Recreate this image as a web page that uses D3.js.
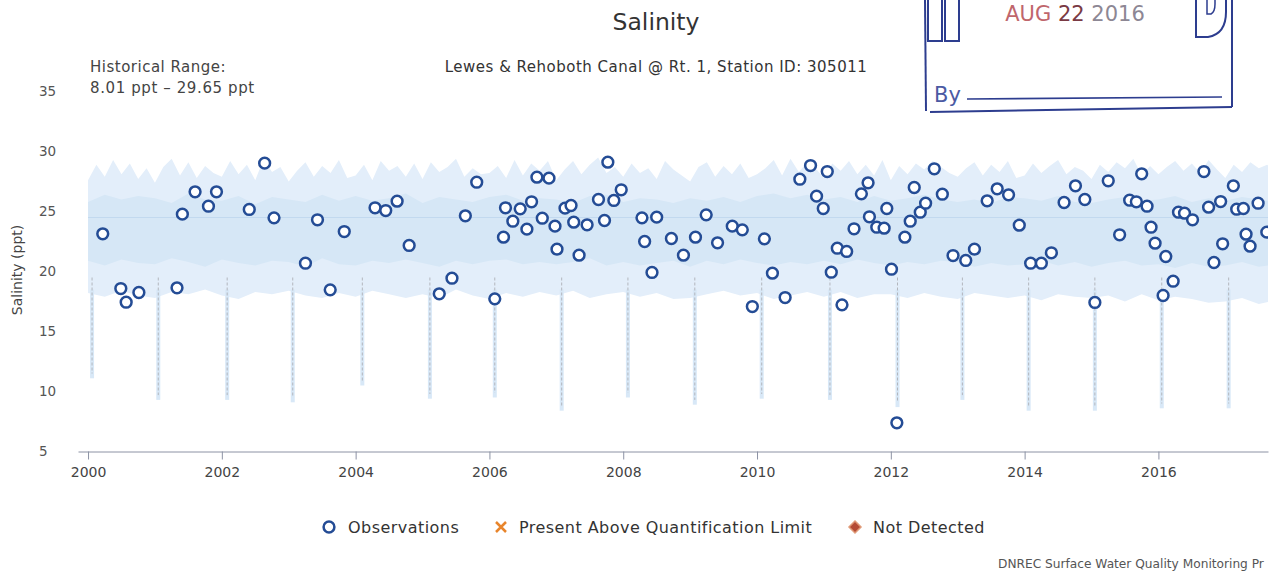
<!DOCTYPE html>
<html lang="en">
<head>
<meta charset="UTF-8" />
<title>Salinity</title>
<script src="https://d3js.org/d3.v7.min.js"></script>
<style>
  body { margin: 0; background: #fff; }
  svg { display: block; font-family: "DejaVu Sans", Verdana, sans-serif; }
</style>
</head>
<body>
<svg width="1280" height="573"></svg>
<script>
// observations (decimal year, ppt)
const obsDates = [2000.22, 2000.49, 2000.57, 2000.76, 2001.33, 2001.41, 2001.60, 2001.80, 2001.92, 2002.41, 2002.64, 2002.78,
  2003.25, 2003.43, 2003.62, 2003.83, 2004.29, 2004.45, 2004.62, 2004.80, 2005.25, 2005.44, 2005.64, 2005.81,
  2006.08, 2006.21, 2006.24, 2006.35, 2006.46, 2006.56, 2006.63, 2006.71, 2006.79, 2006.89, 2006.98, 2007.01,
  2007.13, 2007.22, 2007.26, 2007.34, 2007.46, 2007.63, 2007.72, 2007.77, 2007.86, 2007.97, 2008.28, 2008.32,
  2008.43, 2008.50, 2008.72, 2008.90, 2009.08, 2009.24, 2009.41, 2009.63, 2009.78, 2009.93, 2010.11, 2010.23,
  2010.42, 2010.64, 2010.80, 2010.89, 2010.99, 2011.05, 2011.11, 2011.20, 2011.27, 2011.34, 2011.45, 2011.56,
  2011.66, 2011.68, 2011.79, 2011.90, 2011.94, 2012.01, 2012.09, 2012.21, 2012.29, 2012.35, 2012.44, 2012.52,
  2012.65, 2012.77, 2012.93, 2013.12, 2013.25, 2013.44, 2013.59, 2013.76, 2013.92, 2014.09, 2014.25, 2014.40,
  2014.59, 2014.76, 2014.90, 2015.05, 2015.25, 2015.42, 2015.57, 2015.67, 2015.75, 2015.83, 2015.89, 2015.95,
  2016.07, 2016.11, 2016.22, 2016.30, 2016.39, 2016.51, 2016.68, 2016.75, 2016.83, 2016.93, 2016.96, 2017.12,
  2017.17, 2017.27, 2017.31, 2017.37, 2017.49, 2017.62];
const obsValues = [23.14, 18.58, 17.44, 18.25, 18.64, 24.78, 26.64, 25.44, 26.64, 25.17, 29.03, 24.47,
  20.69, 24.31, 18.47, 23.33, 25.31, 25.08, 25.86, 22.17, 18.14, 19.44, 24.64, 27.44,
  17.72, 22.86, 25.31, 24.19, 25.22, 23.53, 25.81, 27.86, 24.44, 27.78, 23.78, 21.86,
  25.28, 25.50, 24.11, 21.36, 23.89, 26.00, 24.25, 29.11, 25.92, 26.81, 24.47, 22.50,
  19.92, 24.53, 22.75, 21.36, 22.86, 24.72, 22.39, 23.78, 23.47, 17.08, 22.72, 19.86,
  17.83, 27.69, 28.83, 26.28, 25.25, 28.33, 19.94, 21.94, 17.22, 21.67, 23.56, 26.47,
  27.39, 24.56, 23.69, 23.61, 25.25, 20.19, 7.39, 22.86, 24.19, 27.00, 24.94, 25.69,
  28.56, 26.44, 21.33, 20.92, 21.86, 25.89, 26.89, 26.39, 23.86, 20.69, 20.69, 21.56,
  25.75, 27.14, 26.00, 17.42, 27.56, 23.06, 25.94, 25.81, 28.14, 25.44, 23.69, 22.36,
  18.00, 21.25, 19.19, 24.94, 24.86, 24.31, 28.33, 25.36, 20.75, 25.83, 22.31, 27.14,
  25.19, 25.25, 23.11, 22.11, 25.69, 23.28];

// historical continuous record, read per year
const bandYears = [2000, 2001, 2002, 2003, 2004, 2005, 2006, 2007, 2008, 2009, 2010, 2011, 2012, 2013, 2014, 2015, 2016, 2017];
const bandHigh = [
  [27.6, 28.9, 27.9, 29.3, 28.1, 29.0, 27.7, 28.6], [27.4, 28.7, 29.4, 28.0, 29.1, 27.8, 28.8, 28.2],
  [27.9, 29.2, 28.1, 28.9, 27.6, 29.4, 28.3, 28.7], [27.5, 28.4, 29.1, 27.9, 28.8, 28.2, 29.3, 27.8],
  [28.0, 28.9, 27.6, 29.2, 28.4, 28.8, 27.9, 29.0], [27.7, 29.1, 28.3, 28.7, 29.4, 27.9, 28.6, 28.1],
  [28.2, 28.8, 27.8, 29.3, 28.0, 29.0, 28.4, 29.2], [27.6, 28.5, 29.2, 28.1, 28.9, 29.5, 28.2, 28.7],
  [27.9, 29.0, 28.2, 28.6, 27.7, 29.2, 28.5, 28.0], [27.5, 28.7, 29.1, 27.9, 28.8, 28.1, 29.0, 27.8],
  [28.1, 28.6, 29.3, 28.0, 29.4, 28.3, 29.1, 28.6], [27.8, 29.0, 28.4, 29.2, 28.1, 28.9, 28.0, 29.3],
  [27.6, 28.8, 28.1, 29.0, 28.5, 29.2, 28.7, 28.2], [27.9, 28.6, 29.1, 28.0, 28.9, 28.3, 29.2, 27.8],
  [28.0, 29.0, 28.2, 28.8, 29.3, 28.1, 28.7, 28.4], [27.7, 28.9, 28.3, 29.1, 28.6, 29.4, 28.0, 28.8],
  [28.1, 28.7, 29.2, 28.4, 29.0, 28.2, 29.3, 28.5], [27.8, 28.9, 28.3, 29.1, 28.6, 28.9, 28.2, 28.7]];
const bandLow = [
  [18.2, 17.9, 18.4, 18.0], [17.8, 18.3, 18.1, 18.5], [18.0, 17.7, 18.3, 18.1], [18.4, 18.0, 17.8, 18.2],
  [17.9, 18.4, 18.1, 17.8], [18.1, 17.8, 18.5, 18.0], [17.7, 18.2, 17.9, 18.3], [18.0, 18.4, 17.8, 18.1],
  [18.3, 17.9, 18.2, 17.7], [17.8, 18.1, 18.4, 18.0], [18.2, 17.7, 18.0, 18.3], [17.9, 18.3, 17.8, 18.1],
  [18.1, 17.8, 18.2, 17.9], [17.7, 18.2, 18.0, 17.8], [18.0, 17.6, 18.1, 17.9], [17.8, 18.0, 17.5, 18.1],
  [17.6, 17.9, 17.7, 17.4], [17.5, 17.8, 17.3, 17.6]];
const coreHigh = [
  [25.8, 26.4, 26.0, 26.3], [26.1, 25.7, 26.5, 26.0], [25.9, 26.3, 25.6, 26.2], [26.0, 25.8, 26.4, 25.9],
  [26.3, 25.9, 26.1, 26.5], [25.7, 26.2, 26.0, 25.8], [26.2, 26.4, 25.9, 26.1], [26.0, 25.7, 26.3, 26.4],
  [25.8, 26.1, 26.0, 25.7], [26.1, 25.9, 26.2, 25.8], [26.3, 26.5, 26.1, 26.4], [26.0, 26.2, 25.8, 26.3],
  [25.9, 26.1, 26.4, 26.0], [25.8, 26.0, 25.7, 26.2], [26.1, 25.9, 26.3, 25.8], [25.7, 26.0, 26.2, 25.9],
  [26.0, 26.3, 25.8, 26.1], [25.9, 26.2, 26.0, 25.8]];
const coreLow = [
  [20.9, 20.5, 21.0, 20.7], [20.6, 21.1, 20.8, 20.4], [21.0, 20.7, 20.5, 20.9], [20.8, 20.4, 21.1, 20.6],
  [20.5, 20.9, 20.7, 21.0], [20.7, 20.4, 20.9, 20.6], [20.9, 21.0, 20.6, 20.8], [20.6, 20.8, 21.1, 20.5],
  [20.8, 20.5, 20.7, 20.9], [20.4, 20.9, 20.6, 21.0], [20.7, 20.5, 20.8, 20.6], [20.9, 20.6, 21.0, 20.7],
  [20.5, 20.8, 20.6, 20.9], [20.8, 20.4, 20.7, 20.5], [20.6, 20.9, 20.5, 20.8], [20.4, 20.7, 20.9, 20.5],
  [20.6, 20.3, 20.7, 20.4], [20.5, 20.8, 20.4, 20.6]];
const typicalLevel = 24.5;

// yearly winter dips
const dipDates = [2000.06, 2001.05, 2002.08, 2003.06, 2004.10, 2005.11, 2006.08, 2007.08, 2008.07,
  2009.07, 2010.07, 2011.09, 2012.10, 2013.07, 2014.06, 2015.05, 2016.05, 2017.05];
const dipValues = [11.1, 9.3, 9.3, 9.1, 10.5, 9.4, 9.5, 8.4, 9.5, 8.9, 9.4, 9.3, 8.7, 9.3, 8.4, 8.4, 8.6, 8.6];

const xTicks = [2000, 2002, 2004, 2006, 2008, 2010, 2012, 2014, 2016];
const yTicks = [5, 10, 15, 20, 25, 30, 35];
const legendLabels = ["Observations", "Present Above Quantification Limit", "Not Detected"];

let svg = d3.select("svg");

let x = d3.scaleLinear().domain([1999.85, 2017.638]).range([78, 1268]);
let y = d3.scaleLinear().domain([5, 35]).range([451.5, 91.5]);

svg.append("defs").append("clipPath").attr("id", "plot")
  .append("rect").attr("x", 78).attr("y", 80).attr("width", 1190).attr("height", 372);

let plot = svg.append("g").attr("clip-path", "url(#plot)");

// band polygons
function bandPoints(high, low) {
  let top = [], bottom = [];
  bandYears.forEach((yr, i) => {
    high[i].forEach((v, k) => top.push([yr + k / high[i].length, v]));
    low[i].forEach((v, k) => bottom.push([yr + k / low[i].length, v]));
  });
  return top.concat(bottom.reverse());
}
let line = d3.line().x((d) => x(d[0])).y((d) => y(d[1]));

plot.append("path").attr("d", line(bandPoints(bandHigh, bandLow)) + "Z")
  .attr("fill", "#e3eefa");
plot.append("path").attr("d", line(bandPoints(coreHigh, coreLow)) + "Z")
  .attr("fill", "#d6e7f6");

plot.append("line")
  .attr("x1", x(2000)).attr("x2", x(2017.9))
  .attr("y1", y(typicalLevel)).attr("y2", y(typicalLevel))
  .attr("stroke", "#c2d9ef").attr("stroke-width", 1.2);

// winter dips
plot.append("g").selectAll("line").data(dipDates).join("line")
  .attr("x1", (d) => x(d)).attr("x2", (d) => x(d))
  .attr("y1", y(18.5)).attr("y2", (d, i) => y(dipValues[i]))
  .attr("stroke", "#d8e8f7").attr("stroke-width", 4);
plot.append("g").selectAll("line").data(dipDates).join("line")
  .attr("x1", (d) => x(d)).attr("x2", (d) => x(d))
  .attr("y1", y(19.5)).attr("y2", (d, i) => y(dipValues[i] + 0.4))
  .attr("stroke", "#b3b6bd").attr("stroke-width", 1).attr("stroke-dasharray", "3,2");

// observations
plot.append("g").selectAll("circle").data(obsDates).join("circle")
  .attr("cx", (d) => x(d)).attr("cy", (d, i) => y(obsValues[i]))
  .attr("r", 5.4)
  .attr("fill", "#fff")
  .attr("stroke", "#244c95")
  .attr("stroke-width", 2.5);

// axes
let xAxis = svg.append("g").attr("transform", `translate(0,${y(5)})`)
  .call(d3.axisBottom(x).tickValues(xTicks).tickFormat(d3.format("d")).tickSize(8).tickSizeOuter(0).tickPadding(8));
xAxis.select(".domain").attr("stroke", "#8c92a4");
xAxis.selectAll(".tick line").attr("stroke", "#8c92a4");
xAxis.selectAll("text").attr("fill", "#444").attr("font-size", 14).attr("font-family", "DejaVu Sans");

let yAxis = svg.append("g").attr("transform", "translate(39,0)")
  .call(d3.axisLeft(y).tickValues(yTicks).tickSize(0).tickPadding(0));
yAxis.select(".domain").remove();
yAxis.selectAll("text").attr("text-anchor", "start").attr("x", 0)
  .attr("fill", "#555").attr("font-size", 13.5).attr("font-family", "DejaVu Sans");

svg.append("text")
  .attr("transform", "translate(22,270) rotate(-90)")
  .attr("text-anchor", "middle")
  .attr("font-size", 14).attr("fill", "#444")
  .text("Salinity (ppt)");

// titles
svg.append("text").attr("x", 656).attr("y", 30).attr("text-anchor", "middle")
  .attr("font-size", 23.5).attr("fill", "#333").text("Salinity");
svg.append("text").attr("x", 656).attr("y", 72).attr("text-anchor", "middle")
  .attr("font-size", 15).attr("letter-spacing", 0.5).attr("fill", "#333")
  .text("Lewes & Rehoboth Canal @ Rt. 1, Station ID: 305011");
svg.append("text").attr("x", 90).attr("y", 72)
  .attr("font-size", 15).attr("letter-spacing", 0.5).attr("fill", "#444").text("Historical Range:");
svg.append("text").attr("x", 90).attr("y", 93)
  .attr("font-size", 15).attr("letter-spacing", 0.6).attr("fill", "#444").text("8.01 ppt \u2013 29.65 ppt");

// legend
let lg = svg.append("g").attr("transform", "translate(0,527)");
lg.append("circle").attr("cx", 329).attr("cy", 0).attr("r", 5.4)
  .attr("fill", "#fff").attr("stroke", "#244c95").attr("stroke-width", 2.5);
lg.append("path").attr("d", "M496,-5L506,5M506,-5L496,5")
  .attr("stroke", "#e8852c").attr("stroke-width", 2.5);
lg.append("path").attr("d", "M855,-6L861,0L855,6L849,0Z")
  .attr("fill", "#b44b35").attr("stroke", "#e09a78").attr("stroke-width", 1.5);
lg.selectAll("text.lab").data(legendLabels).join("text").attr("class", "lab")
  .attr("x", (d, i) => [348, 519, 873][i]).attr("y", 6)
  .attr("font-size", 16).attr("letter-spacing", 0.45).attr("fill", "#333")
  .text((d) => d);

svg.append("text").attr("x", 998).attr("y", 568)
  .attr("font-size", 12.2).attr("fill", "#555")
  .text("DNREC Surface Water Quality Monitoring Pr");

// received stamp
let st = svg.append("g").attr("fill", "none").attr("stroke", "#2d3d8f").attr("stroke-width", 2);
st.append("path").attr("d", "M925,0L926,111");
st.append("path").attr("d", "M1232,0L1232,107");
st.append("path").attr("d", "M930,112L1232,107");
st.append("path").attr("d", "M967,99L1222,97").attr("stroke-width", 1.6);
st.append("path").attr("d", "M928,0L928,41L942,41L942,0");
st.append("path").attr("d", "M945,0L945,41L959,41L959,0");
st.append("path").attr("d", "M1196,0L1196,37L1208,37Q1226,34 1226,12L1226,0");
st.append("path").attr("d", "M1207,0L1207,14L1211,14Q1215,12 1215,4L1215,0").attr("stroke-width", 1.5);
let dt = svg.append("text").attr("x", 1075).attr("y", 21).attr("text-anchor", "middle").attr("font-size", 21);
dt.append("tspan").attr("fill", "#c0666c").text("AUG ");
dt.append("tspan").attr("fill", "#7a3a44").text("22 ");
dt.append("tspan").attr("fill", "#8d8794").text("2016");
svg.append("text").attr("x", 934).attr("y", 102).attr("font-size", 21).attr("fill", "#4b5aa3").text("By");
</script>
</body>
</html>
